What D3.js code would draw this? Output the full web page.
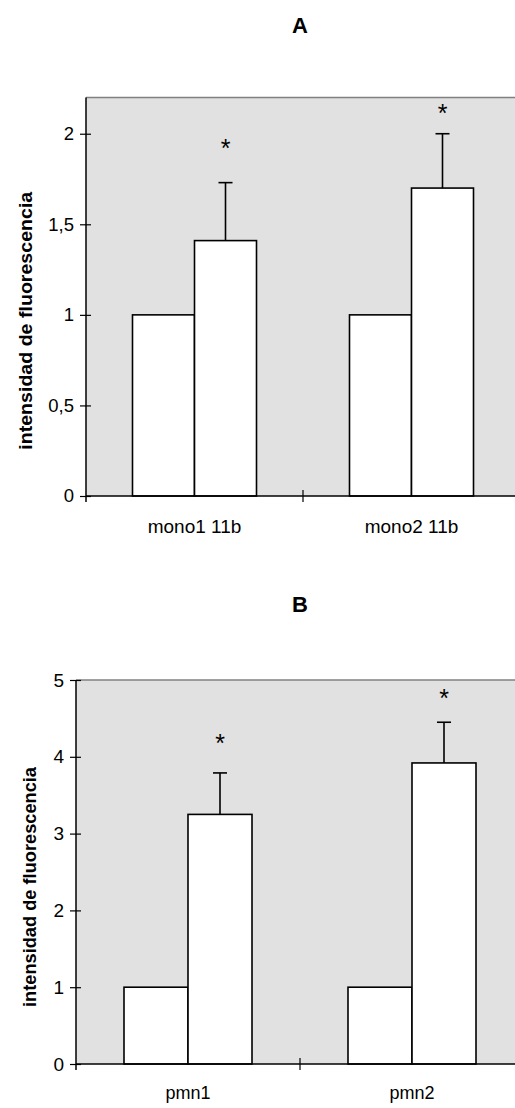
<!DOCTYPE html>
<html>
<head>
<meta charset="utf-8">
<script src="https://cdn.jsdelivr.net/npm/d3@7/dist/d3.min.js"></script>
<style>
  html, body { margin: 0; padding: 0; background: #fff; }
  svg { display: block; }
  text { font-family: Arial, "Liberation Sans", sans-serif; fill: #000; }
</style>
</head>
<body>
<svg id="chart" width="515" height="1108"></svg>
<script>
// ---------- DATA ----------
const seriesNames = ["control", "tratado"];

const categoriesA = ["mono1 11b", "mono2 11b"];
const controlA = [1, 1];
const treatedA = [1.41, 1.70];
const errorA = [0.32, 0.30];
const starA = [1.95, 2.14];
const tickValuesA = [0, 0.5, 1, 1.5, 2];
const tickLabelsA = ["0", "0,5", "1", "1,5", "2"];

const categoriesB = ["pmn1", "pmn2"];
const controlB = [1, 1];
const treatedB = [3.25, 3.92];
const errorB = [0.54, 0.53];
const starB = [4.24, 4.83];
const tickValuesB = [0, 1, 2, 3, 4, 5];
const tickLabelsB = ["0", "1", "2", "3", "4", "5"];

const yTitle = "intensidad de fluorescencia";

// ---------- DRAW ----------
const svg = d3.select("#chart");

function panel(opts) {
  const { title, titleY, cats, control, treated, err, star, tickValues, tickLabels,
          left, right, top, bottom, ymax, tickFont, labelFont, labelY,
          yTitleX, yTitleLen, yTitleFont, labelRight } = opts;

  const y = d3.scaleLinear().domain([0, ymax]).range([bottom, top]);
  const x0 = d3.scaleBand().domain(cats).range([left, right]).paddingInner(0).paddingOuter(0);
  const x1 = d3.scaleBand().domain(seriesNames).range([0, x0.bandwidth()])
               .paddingInner(0).paddingOuter(0.75);

  const g = svg.append("g");

  // title
  g.append("text").attr("x", 300).attr("y", titleY)
    .attr("text-anchor", "middle").attr("font-weight", "bold")
    .attr("font-size", 22).text(title);

  // plot area
  g.append("rect").attr("x", left).attr("y", y(ymax))
    .attr("width", right - left).attr("height", bottom - y(ymax))
    .attr("fill", "#e1e1e1");
  g.append("line").attr("x1", left).attr("x2", right)
    .attr("y1", y(ymax)).attr("y2", y(ymax))
    .attr("stroke", "#808080").attr("stroke-width", 1.5);

  // bars
  const rows = cats.map((c, i) => ({ cat: c, vals: [control[i], treated[i]], err: err[i], star: star[i] }));
  const grp = g.selectAll(".grp").data(rows).enter().append("g")
    .attr("transform", d => `translate(${x0(d.cat)},0)`);

  grp.selectAll("rect").data(d => d.vals.map((v, j) => ({ s: seriesNames[j], v })))
    .enter().append("rect")
    .attr("x", d => x1(d.s)).attr("width", x1.bandwidth())
    .attr("y", d => y(d.v)).attr("height", d => y(0) - y(d.v))
    .attr("fill", "#fff").attr("stroke", "#000").attr("stroke-width", 1.6);

  // error bars on treated series
  const cx = x1(seriesNames[1]) + x1.bandwidth() / 2;
  grp.append("line").attr("x1", cx).attr("x2", cx)
    .attr("y1", d => y(d.vals[1])).attr("y2", d => y(d.vals[1] + d.err))
    .attr("stroke", "#000").attr("stroke-width", 1.6);
  grp.append("line").attr("x1", cx - 7).attr("x2", cx + 7)
    .attr("y1", d => y(d.vals[1] + d.err)).attr("y2", d => y(d.vals[1] + d.err))
    .attr("stroke", "#000").attr("stroke-width", 1.6);

  // asterisks
  grp.append("text").attr("x", cx).attr("y", d => y(d.star) + 14)
    .attr("text-anchor", "middle").attr("font-size", 25).text("*");

  // y axis
  const ya = d3.axisLeft(y).tickValues(tickValues)
    .tickFormat((d, i) => tickLabels[i]).tickSize(6).tickPadding(0);
  const yg = g.append("g").attr("transform", `translate(${left},0)`).call(ya);
  yg.select(".domain").remove();
  yg.selectAll(".tick line").attr("x1", 5).attr("x2", -6).attr("stroke", "#000").attr("stroke-width", 1.2);
  yg.selectAll(".tick text").attr("x", -(left - labelRight)).attr("font-size", tickFont)
    .attr("font-family", "Arial, 'Liberation Sans', sans-serif").attr("fill", "#000");
  g.append("line").attr("x1", left).attr("x2", left).attr("y1", y(ymax)).attr("y2", bottom + 6)
    .attr("stroke", "#000").attr("stroke-width", 1.5);

  // x axis
  g.append("line").attr("x1", left).attr("x2", right).attr("y1", bottom).attr("y2", bottom)
    .attr("stroke", "#000").attr("stroke-width", 1.5);
  cats.forEach(c => {
    const bx = x0(c) + x0.bandwidth();
    g.append("line").attr("x1", bx).attr("x2", bx).attr("y1", bottom - 6).attr("y2", bottom + 6)
      .attr("stroke", "#000").attr("stroke-width", 1.2);
  });
  const xa = d3.axisBottom(x0).tickSize(0).tickPadding(0);
  const xg = g.append("g").attr("transform", `translate(0,${labelY})`).call(xa);
  xg.select(".domain").remove();
  xg.selectAll(".tick text").attr("dy", 0).attr("font-size", labelFont)
    .attr("font-family", "Arial, 'Liberation Sans', sans-serif").attr("fill", "#000");

  // y title
  g.append("text")
    .attr("transform", `translate(${yTitleX},${(top + bottom) / 2 + opts.yTitleShift}) rotate(-90)`)
    .attr("text-anchor", "middle").attr("font-weight", "bold")
    .attr("font-size", yTitleFont)
    .attr("textLength", yTitleLen).attr("lengthAdjust", "spacingAndGlyphs")
    .text(yTitle);
}

panel({
  title: "A", titleY: 33, cats: categoriesA, control: controlA, treated: treatedA,
  err: errorA, star: starA, tickValues: tickValuesA, tickLabels: tickLabelsA,
  left: 86, right: 520, top: 97.5, bottom: 496, ymax: 2.2,
  tickFont: 18.5, labelFont: 19, labelY: 533, labelRight: 74,
  yTitleX: 32, yTitleLen: 258, yTitleFont: 18, yTitleShift: 24
});

panel({
  title: "B", titleY: 612, cats: categoriesB, control: controlB, treated: treatedB,
  err: errorB, star: starB, tickValues: tickValuesB, tickLabels: tickLabelsB,
  left: 76, right: 524, top: 680, bottom: 1064, ymax: 5,
  tickFont: 19, labelFont: 18, labelY: 1099, labelRight: 64,
  yTitleX: 36, yTitleLen: 240, yTitleFont: 18, yTitleShift: 15
});
</script>
</body>
</html>
